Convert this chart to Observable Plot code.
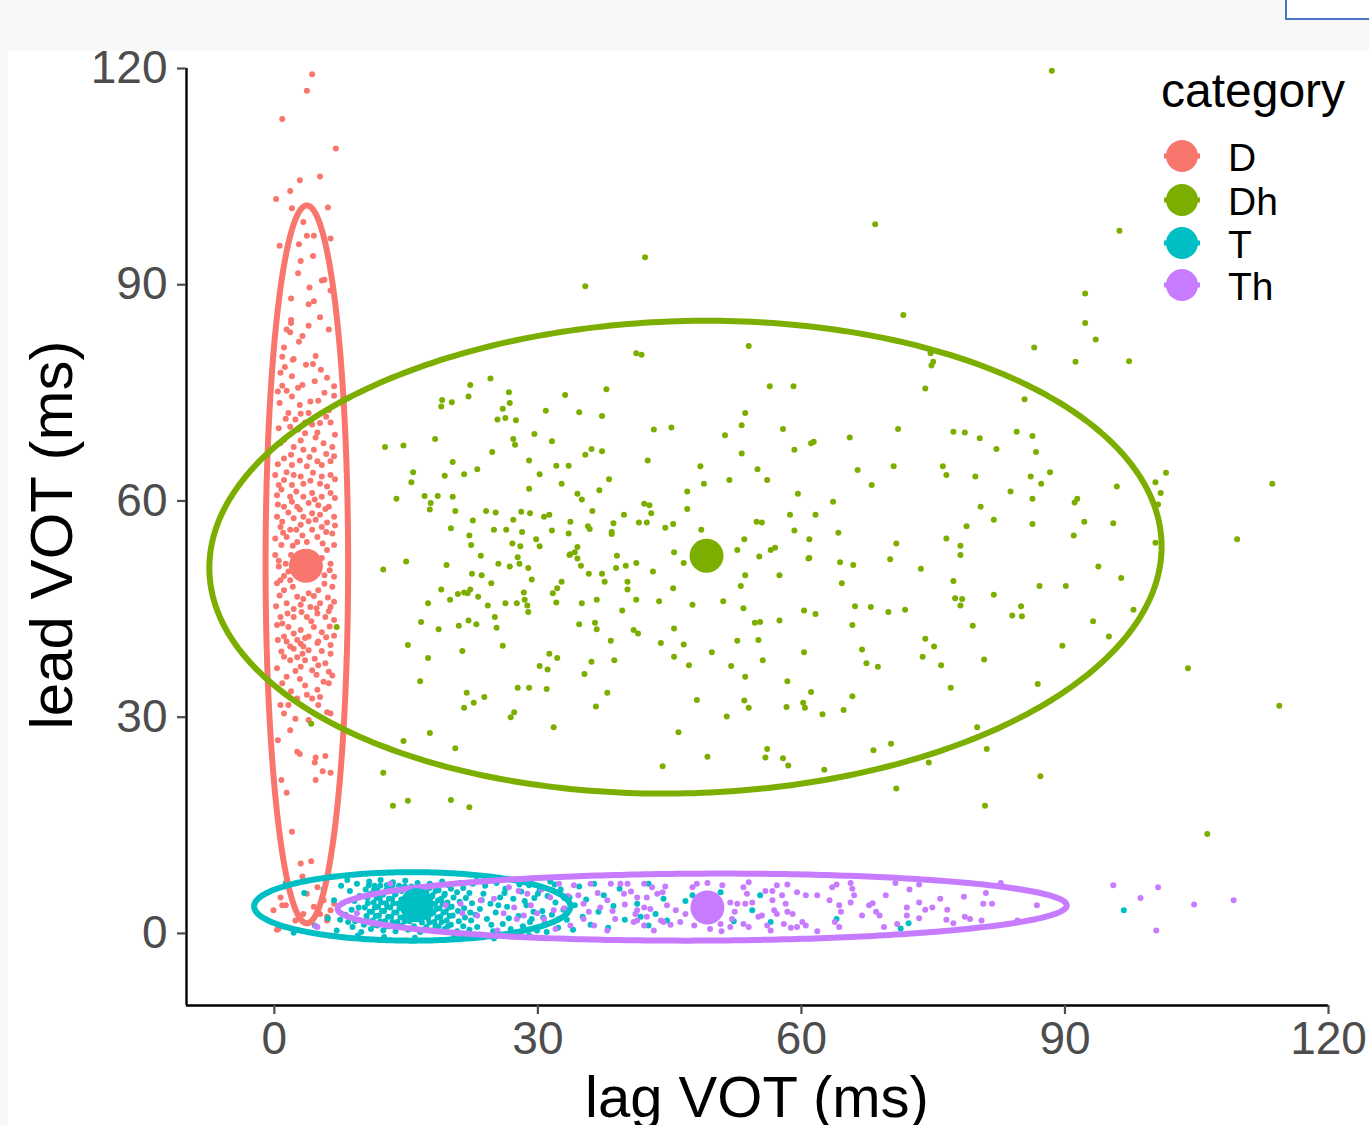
<!DOCTYPE html>
<html><head><meta charset="utf-8">
<script src="https://cdn.jsdelivr.net/npm/d3@7"></script>
<script src="https://cdn.jsdelivr.net/npm/@observablehq/plot@0.6"></script>
<style>
html,body{margin:0;padding:0;background:#f8f8f8;width:1369px;height:1125px;overflow:hidden;font-family:"Liberation Sans",Arial,sans-serif}
#panel{position:absolute;left:8px;top:51px;width:1361px;height:1074px;background:#fff}
#box{position:absolute;left:1285px;top:-2px;width:90px;height:18px;border:2px solid #4a74c4;background:#fff}
#chart{position:absolute;left:0;top:0}
#overlay{position:absolute;left:0;top:0}
</style></head><body>
<div id="panel"></div><div id="box"></div><div id="chart"></div>
<svg id="overlay" width="1369" height="1125"></svg>
<script>
const categories = ["D","Dh","T","Th"];
const colors = ["#F8766D","#7CAE00","#00BFC4","#C77CFF"];
const xTicks = [0,30,60,90,120];
const yTicks = [0,30,60,90,120];

const pointsD = [[4.3,119.2],[3.7,116.9],[0.9,113.0],[7.0,108.9],[5.2,105.0],[2.9,104.5],[1.8,103.0],[0.2,101.9],[2.0,100.6],[6.1,100.7],[3.3,98.7],[3.7,96.8],[4.5,96.8],[6.4,96.4],[0.6,95.4],[2.8,95.6],[3.0,93.3],[4.4,94.0],[2.7,91.6],[5.4,90.6],[5.7,90.7],[4.0,89.6],[6.4,89.2],[1.9,88.1],[3.9,87.3],[4.5,87.7],[5.2,85.5],[1.9,85.1],[1.9,84.7],[1.4,83.8],[1.8,83.4],[3.9,84.3],[6.2,83.8],[3.2,82.9],[2.8,82.1],[1.1,81.3],[0.9,80.0],[2.2,79.7],[4.7,80.1],
[2.1,79.6],[4.4,79.0],[5.3,78.2],[0.7,77.8],[2.0,77.3],[3.2,76.1],[0.9,76.0],[0.4,75.2],[1.4,75.3],[2.0,74.5],[5.7,75.0],[6.8,75.9],[6.8,74.6],[4.1,73.8],
[1.6,72.2],[3.0,72.1],[3.9,72.2],[2.4,71.3],[1.8,70.3],[4.3,70.6],[5.2,70.8],[6.4,70.9],[6.9,69.2],[3.5,69.4],[4.7,68.8],[3.0,68.4],[5.6,68.0],[1.1,68.5],[2.2,67.5],[1.1,65.9],[3.3,67.1],[4.5,67.1],[6.6,67.5],[0.1,63.6],[2.0,65.0],[4.9,65.5],[5.4,65.0],[6.4,65.5],
[2.2,63.6],[3.0,63.4],[5.4,63.4],[6.4,63.6],[0.5,62.2],[2.0,62.2],[3.3,62.4],[5.2,62.4],[0.3,60.8],[1.8,60.6],[3.3,60.6],[4.3,61.1],[6.4,61.1],[1.1,59.2],[2.6,59.2],[3.9,59.7],[5.0,59.4],[6.2,59.2],[0.3,57.8],[2.2,57.6],[3.3,57.8],[5.2,58.1],[6.8,57.8],[0.7,56.4],[1.8,56.0],[3.0,56.7],[4.3,56.0],[5.4,56.4],[6.6,55.5],[0.1,54.8],[1.4,55.0],[2.6,54.3],[4.9,55.0],[3.7,54.3],
[0.1,52.5],[0.5,50.9],[0.7,49.0],[1.3,51.3],[6.0,53.2],[6.4,51.3],[6.8,49.5],[6.6,48.1],[1.1,47.6],[1.8,49.0],
[2.6,46.7],[3.9,47.2],[5.0,47.6],[1.4,45.8],[3.0,45.6],[4.1,45.3],[5.2,45.8],[6.4,45.3],[0.7,43.9],[2.2,43.9],[3.7,43.9],[4.9,44.4],[5.8,43.9],[6.8,43.5],[0.3,42.8],[1.6,42.5],[3.0,42.1],[4.5,42.5],[5.4,41.8],[1.1,41.2],[2.6,40.7],[3.9,41.2],[5.0,40.5],[1.8,39.8],[3.3,39.8],
[1.4,40.5],[3.0,40.2],[4.9,40.3],[6.4,40.0],[2.2,39.5],[3.9,39.3],[1.1,38.4],[3.2,38.8],[6.4,38.8],[1.8,37.9],[3.5,37.9],[5.8,37.5],[0.3,36.8],[3.0,37.0],[4.3,36.5],[5.0,37.2],[6.2,36.3],[1.4,35.6],[6.6,35.8],[3.5,34.4],[4.9,33.8],[6.2,34.7],[2.6,32.6],[4.3,32.6],[5.2,32.8],[0.7,31.7],[1.6,31.7],[5.0,31.7],[6.0,30.7],[1.1,30.5],[2.4,29.8],[3.9,29.6],[6.4,30.5],[1.8,28.2],
[2.6,25.2],[2.9,24.9],[4.7,24.4],[4.6,23.7],[5.8,24.6],[5.5,22.5],[6.4,22.3],[4.7,21.3],[0.4,26.8],[0.8,21.3],[1.4,19.5],[2.0,14.1],[3.0,9.7],[4.2,10.0],[3.2,7.9],
[0.7,5.0],[1.3,3.9],[-0.1,3.2],[3.7,5.5],[4.9,6.4],[5.6,4.6],[4.5,3.7],[5.2,2.7],[6.4,3.2],[6.0,1.8],[3.3,2.7],[2.4,1.8],[0.5,0.7],[0.9,3.9],[6.8,4.1],[6.0,2.3],[0.3,0.5],
[1.2,78.6],[3.6,78.9],[6.0,77.1],[2.7,75.7],[4.6,76.6],[0.6,73.6],[2.9,73.3],[5.0,73.9],[6.2,72.6],[1.3,71.4],[3.5,70.9],[5.9,71.7],[0.5,70.1],[2.7,69.9],[4.9,69.5],
[0.7,68.0],[1.9,66.4],[4.0,66.1],[5.9,66.5],[2.9,65.6],[6.8,66.2],[0.4,65.1],[3.7,64.8],[1.4,64.0],[4.4,63.9],[6.9,63.0],
[1.1,62.9],[4.1,62.8],[6.0,62.0],[0.8,61.6],[2.5,61.3],[5.4,60.6],[6.9,60.4],[2.0,59.9],[4.6,60.2],[0.4,59.5],
[1.6,58.4],[2.9,58.8],[4.3,58.3],[5.8,58.9],[0.9,57.1],[3.9,57.2],[6.0,57.0],[4.7,57.4],[2.5,56.0],[1.0,55.6],[5.9,55.7],[3.2,55.2],[6.9,56.6],
[0.8,53.9],[2.1,53.8],[5.5,54.1],[6.8,53.9],[1.9,52.5],[5.4,52.1],[0.5,51.7],[6.3,50.4],[1.6,50.2],[5.7,49.7],[1.1,49.6],
[0.3,48.6],[2.1,48.1],[5.7,48.5],[0.6,46.9],[3.3,46.4],[4.5,46.8],[6.1,46.6],[0.2,45.4],[2.2,45.0],[4.8,45.1],[6.8,46.0],
[1.5,44.4],[3.1,44.6],[6.2,44.7],[0.9,43.0],[4.2,43.3],[6.3,42.6],[2.2,41.6],[5.9,41.1],[0.4,40.7],[3.5,41.0],[6.8,41.3],
[2.6,38.3],[4.6,38.1],[5.4,39.2],[0.8,39.1],[2.4,36.4],[4.8,35.9],[0.9,34.7],[2.9,35.3],[5.6,34.9],[1.9,33.6],[3.7,33.1]];

const pointsDh = [[42.2,93.8],[35.4,89.8],[54.0,81.5],[41.2,80.5],[41.8,80.3],[24.6,77.0],[22.3,76.1],[19.1,74.0],[20.2,73.7],[19.0,73.1],[22.1,74.5],[26.7,75.1],[26.8,73.6],[26.0,72.8],[25.4,71.3],[26.3,71.5],[27.5,71.2],[33.1,74.7],[37.8,75.5],[30.9,72.5],[34.7,72.3],[37.3,71.8],[56.4,75.9],[59.1,75.9],[53.6,72.2],[53.2,70.5],[57.9,70.0],[43.2,69.9],[45.2,70.2],[51.3,69.1],[61.1,68.0],[61.4,68.2],[59.2,67.1],[53.2,66.6],[42.5,65.6],[48.5,64.8],[55.0,64.4],[51.8,62.9],[56.1,62.9],[48.9,62.4],[47.0,61.3],[59.6,61.0],[47.0,58.9],[12.6,67.5],[14.7,67.7],[18.3,68.6],[27.2,68.6],[27.4,67.8],[29.6,69.3],[31.6,68.3],[24.8,66.8],[20.3,65.4],[15.8,64.0],[15.6,62.6],[19.4,63.5],[21.6,63.7],[23.1,64.4],[29.0,65.6],[30.2,63.7],[32.1,64.9],[33.5,64.9],[35.4,66.4],[36.1,67.2],[37.3,66.9],[38.1,63.0],[37.0,61.5],[32.7,62.4],[29.0,61.7],[34.5,61.0],[35.0,60.2],[13.9,60.3],[17.1,60.7],[18.6,60.7],[20.3,60.6],[17.8,59.7],[17.7,58.8],[20.6,58.6],[24.1,58.6],[25.2,58.4],[22.6,57.3],[20.1,56.2],[22.2,55.2],[22.4,53.9],[23.5,52.4],[28.1,58.5],[29.1,58.3],[27.2,57.4],[25.0,56.0],[26.4,56.0],[28.2,55.7],[29.8,54.7],[30.2,53.7],[27.1,54.1],[28.0,53.7],[27.7,52.2],[30.7,57.8],[31.3,58.1],[31.6,55.9],[33.7,57.1],[33.5,55.5],[34.5,53.6],[33.7,52.6],[34.2,52.9],[34.5,52.0],[35.7,56.5],[35.9,56.1],[36.2,58.6],[38.6,56.9],[38.4,55.7],[38.4,55.4],[39.0,52.4],[39.8,58.1],[41.5,57.0],[42.4,57.0],[42.1,59.6],[42.7,59.4],[42.9,58.3],[44.5,56.3],[45.4,56.8],[48.6,56.0],[45.5,52.9],[53.5,54.7],[52.7,53.2],[55.2,52.3],[56.5,53.2],[57.0,53.5],[54.9,57.1],[55.5,57.0],[58.7,58.1],[61.6,58.1],[59.2,55.9],[60.9,54.7],[60.9,52.1],
[12.4,50.5],[15.0,51.6],[19.6,51.1],[27.9,51.3],[28.9,50.7],[26.8,50.9],[25.5,51.3],[22.5,49.9],[23.6,49.7],[24.7,48.6],[29.3,49.1],[19.0,47.7],[17.5,45.8],[20.0,46.3],[20.9,47.1],[21.6,47.3],[22.0,47.2],[22.3,47.7],[23.2,46.7],[24.3,45.5],[26.3,45.8],[27.6,45.8],[28.4,47.3],[28.5,46.3],[28.8,45.5],[28.9,44.6],[16.7,43.2],[18.7,42.2],[21.0,42.7],[22.1,43.4],[23.0,42.9],[25.1,43.9],[25.3,42.4],[15.2,40.0],[17.5,38.2],[21.4,39.2],[26.0,39.9],[16.6,35.0],[21.9,33.4],[22.7,32.0],[21.6,31.3],[23.9,32.8],[27.7,34.1],[29.0,34.1],[31.0,33.9],[27.3,30.7],[26.9,30.0],[31.8,28.6],[17.7,27.8],[14.7,26.7],[20.6,25.7],[12.4,22.3],[13.5,17.7],[15.2,18.4],[20.1,18.5],[22.2,17.5],[31.7,47.2],[32.2,47.9],[32.7,48.8],[32.1,45.9],[33.6,52.5],[34.9,51.0],[35.8,49.9],[37.3,49.9],[37.6,48.8],[38.9,50.7],[40.0,51.0],[41.2,51.4],[40.2,48.8],[40.2,47.7],[35.0,45.8],[36.7,46.3],[34.7,42.9],[36.5,43.1],[36.7,42.2],[39.6,44.8],[41.2,46.3],[43.1,50.2],[46.6,51.4],[45.4,47.9],[43.8,46.1],[47.6,45.6],[40.9,42.1],[41.4,41.6],[38.3,40.6],[31.3,38.8],[32.2,38.2],[30.2,37.1],[31.1,36.6],[36.1,37.7],[38.7,37.9],[35.3,36.0],[37.9,33.4],[36.6,31.5],[44.0,40.3],[45.5,42.3],[46.6,40.1],[45.5,38.4],[47.2,37.2],[49.8,39.0],[48.1,32.4],[46.0,27.9],[44.2,23.2],[49.3,24.5],[51.1,46.1],[53.4,45.1],[53.6,49.7],[53.1,48.2],[57.5,49.7],[60.8,52.0],[54.7,43.1],[55.3,43.2],[57.5,43.4],[60.3,44.8],[61.6,44.3],[52.7,40.6],[55.1,40.7],[55.6,37.9],[60.3,39.0],[52.0,37.1],[53.6,35.6],[53.5,32.3],[54.0,31.3],[51.5,30.1],[58.4,35.0],[61.1,33.5],[58.3,31.4],[60.2,32.0],[60.4,31.3],[62.4,30.4],[56.1,25.6],[55.9,24.4],[57.9,24.3],[58.5,23.3],[62.6,22.7],
[88.5,119.7],[68.4,98.4],[96.2,97.5],[71.6,85.8],[92.3,88.8],[92.3,84.7],[93.5,82.4],[86.5,81.3],[91.2,79.3],[97.3,79.4],[74.7,80.5],[75.0,79.3],[74.8,78.8],[74.1,75.6],[85.4,74.1],[65.5,68.8],[71.0,70.0],[77.3,69.6],[78.6,69.5],[80.3,68.7],[84.5,69.6],[86.3,69.0],[82.2,67.2],[86.7,66.8],[66.4,64.3],[70.5,64.8],[68.0,62.2],[76.1,64.8],[76.5,63.6],[79.8,63.4],[86.1,63.4],[87.3,62.4],[88.3,64.0],[83.8,61.3],[86.3,60.3],[80.4,59.2],[81.9,57.4],[78.8,56.5],[86.3,56.8],[91.4,60.3],[91.1,59.8],[92.2,57.1],[95.5,56.9],[91.0,55.2],[95.9,62.0],[100.3,62.6],[101.5,63.9],[100.9,61.1],[100.6,59.5],[113.6,62.4],[109.6,54.7],[100.3,54.2],[63.6,59.9],[64.2,55.6],[70.8,54.1],[76.5,54.8],[78.1,53.8],[78.1,52.5],[70.1,51.9],
[64.4,51.5],[65.9,51.1],[73.6,50.6],[64.6,48.6],[77.3,48.9],[77.5,46.5],[78.3,46.4],[78.1,45.5],[81.9,47.0],[87.1,48.2],[90.1,48.2],[93.8,50.9],[96.4,49.3],[66.1,45.4],[67.9,45.3],[69.9,44.6],[71.8,44.9],[65.8,42.8],[84.0,44.1],[85.0,45.4],[85.1,44.0],[79.5,42.7],[74.1,40.9],[75.1,39.8],[73.8,38.4],[75.9,37.2],[66.9,39.4],[67.4,37.5],[68.7,37.0],[80.8,38.0],[77.0,34.1],[93.2,43.3],[97.8,44.9],[95.0,41.2],[89.7,39.9],[86.9,34.6],[65.8,32.9],[64.8,31.0],[80.0,28.6],[68.2,25.4],[70.2,26.3],[81.1,25.6],[74.5,23.7],[70.8,20.1],[87.2,21.8],[80.9,17.7],[104.0,36.8],[114.4,31.6],[106.2,13.8],[4.2,29.1],[7.1,42.5]];

const pointsT = [[1.3,7.0],[3.4,5.6],[5.6,6.1],[6.8,4.6],[6.1,2.1],[4.6,1.1],[7.1,0.4],[2.2,0.1],[7.6,6.6],[8.3,7.4],[8.9,0.9],[9.4,6.9],[8.1,2.6],[9.2,1.7],[9.7,5.2],[8.6,5.9],[9.9,0.2],[8.8,3.3],[7.8,4.2],[9.1,4.5],[8.4,1.6],[9.6,3.6],[7.5,1.9],
[10.2,1.2],[10.5,2.4],[10.3,3.6],[10.6,4.9],[10.4,6.1],[10.8,7.2],[11.0,0.6],[11.2,1.8],[11.1,3.0],[11.3,4.3],[11.0,5.5],[11.4,6.6],[11.7,1.1],[11.9,2.5],[11.8,3.7],[12.0,4.9],[11.7,6.0],[12.1,7.4],[12.4,0.4],[12.6,1.7],[12.5,3.1],[12.7,4.2],[12.4,5.4],[12.8,6.7],[13.1,1.0],[13.3,2.3],[13.2,3.6],[13.4,4.8],[13.1,6.1],[13.5,7.1],[13.8,0.3],[14.0,1.6],[13.9,2.9],[14.1,4.1],[13.8,5.5],[14.2,6.6],[14.5,1.1],[14.7,2.2],[14.6,3.5],[14.8,4.7],[14.5,5.9],[14.9,7.3],[15.2,0.5],[15.4,1.7],[15.3,2.8],[15.5,4.2],[15.2,5.3],[15.6,6.5],[15.9,1.0],[16.1,2.3],[16.0,3.4],[16.2,4.6],[15.9,5.8],[16.3,7.0],[16.6,0.2],[16.8,1.5],[16.7,2.7],[16.9,4.0],[16.6,5.2],[17.0,6.4],[17.3,0.9],[17.5,2.1],[17.4,3.3],[17.6,4.5],[17.3,5.7],[17.7,6.9],[18.0,0.4],[18.2,1.6],[18.1,2.9],[18.3,4.1],[18.0,5.3],[18.4,6.5],[18.7,1.0],[18.9,2.3],[18.8,3.5],[19.0,4.8],[18.7,6.0],[19.1,7.2],[19.4,0.6],[19.6,1.8],[19.5,3.0],[19.7,4.3],[19.4,5.5],[19.8,6.7],[20.1,1.2],[20.3,2.5],[20.2,3.7],[20.4,5.0],[20.1,6.2],[20.8,0.3],[21.0,1.7],[20.9,3.1],[21.1,4.4],[20.8,5.7],[21.2,7.0],[21.5,1.0],[21.7,2.2],[21.6,3.5],[21.8,4.9],[21.5,6.3],[22.2,0.5],[22.4,1.8],[22.3,2.9],[22.5,4.2],[22.2,5.6],[22.6,6.9],
[10.55,1.8],[10.85,3.0],[10.65,4.2],[10.95,5.5],[10.75,6.7],[11.35,1.2],[11.55,2.4],[11.45,3.6],[11.65,4.9],[11.35,6.1],[12.05,1.7],[12.25,3.1],[12.15,4.3],[12.35,5.5],[12.05,6.6],[12.75,1.0],[12.95,2.3],[12.85,3.7],[13.05,4.8],[12.75,6.0],[13.45,1.6],[13.65,2.9],[13.55,4.2],[13.75,5.4],[13.45,6.7],[14.15,0.9],[14.35,2.2],[14.25,3.5],[14.45,4.7],[14.15,6.1],[14.85,1.7],[15.05,2.8],[14.95,4.1],[15.15,5.3],[14.85,6.5],[17.65,1.5],[17.85,2.7],[17.75,3.9],[17.95,5.1],[17.65,6.3],[18.35,1.0],[18.55,2.2],[18.45,3.4],[18.65,4.6],[18.35,5.9],[19.05,1.6],[19.25,2.9],[19.15,4.1],[19.35,5.3],[19.75,1.0],[19.95,2.4],[19.85,3.6],
[23.0,7.3],[23.4,3.4],[23.1,0.9],[23.8,5.5],[24.2,2.0],[24.0,6.6],[24.6,4.1],[24.9,0.3],[25.3,7.0],[25.2,2.9],[25.7,5.0],[26.0,1.3],[26.3,6.2],[26.5,3.7],[26.9,0.6],[27.2,4.8],[27.4,7.4],[27.8,2.4],[28.1,5.8],[28.3,1.0],[28.7,3.9],[29.0,6.7],[29.3,2.0],[29.6,4.9],[29.9,0.4],[30.2,6.0],[30.5,3.1],[30.8,1.4],[31.1,5.2],[31.4,7.2],[31.6,2.6],[32.0,4.3],[32.3,0.8],[32.6,6.1],[32.9,3.3],[33.3,1.9],[33.6,5.0],[34.0,0.5],[34.2,3.9],[34.7,6.5],[35.1,2.3],[35.5,4.7],[36.0,1.2],[36.4,6.9],[36.9,3.0],[37.5,5.3],[38.0,0.8],[38.6,3.8],[39.3,6.2],[39.9,1.9],
[22.9,2.6],[23.6,4.6],[24.4,7.6],[24.7,1.2],[25.5,3.9],[26.2,5.6],[26.7,2.1],[27.5,0.1],[27.9,6.8],[28.5,4.5],[29.1,1.6],[29.5,3.0],[30.0,5.5],[30.6,2.2],[31.0,0.2],[31.9,6.8],[32.4,2.0],[33.0,4.9],
[12.5,-0.5],[16.0,-0.6],[20.5,-0.4],[25.0,-0.7],[29.0,-0.3],[9.5,-0.3],
[42.6,6.9],[44.3,4.8],[41.3,4.1],[43.4,2.7],[42.6,1.1],[44.7,1.8],[41.7,2.3],[47.6,5.3],[46.8,4.5],[50.8,5.7],[52.3,1.7],[54.4,3.2],[55.3,5.3],[56.5,1.6],[64.0,2.0],[71.3,0.7],[72.2,1.4],[96.7,3.2]];

const pointsTh = [[42.1,6.9],[43.0,6.4],[44.5,6.5],[41.3,5.0],[42.4,5.0],[43.6,5.5],[44.2,5.7],[42.1,3.6],[42.8,3.4],[44.7,3.9],[45.7,3.2],[41.1,2.7],[42.4,2.3],[44.0,1.8],[45.1,1.2],[46.2,1.6],[42.1,1.1],[43.2,0.4],[47.8,1.1],[47.6,6.4],[48.1,6.9],[49.3,7.0],[51.0,6.7],[46.8,2.7],[49.6,0.6],[50.8,1.3],[50.9,0.3],[51.9,4.3],[52.7,4.1],[51.9,0.9],[52.4,3.0],[52.1,2.0],[53.4,6.4],[54.0,7.1],[53.8,5.5],[53.6,4.1],[54.4,4.3],[53.4,1.3],[54.0,0.9],[55.1,2.3],[55.5,2.5],[55.9,5.9],[56.7,5.9],[57.2,6.7],[58.4,6.8],[56.7,4.6],[57.8,5.3],[58.2,4.1],[57.2,2.7],[56.9,3.2],[58.4,3.0],[59.0,2.7],[56.1,1.1],[56.5,0.4],[58.0,1.3],[58.8,0.8],[59.5,5.7],[60.5,5.3],[61.8,5.3],[60.1,1.6],[60.5,1.1],[59.5,0.9],[61.8,0.3],[63.2,4.6],[63.5,6.4],[64.0,6.8],[64.3,3.9],[64.5,3.0],[64.3,0.9],[63.8,1.6],[65.6,7.0],[65.8,6.2],[66.0,5.3],[65.6,4.3],[66.9,2.5],[67.7,3.9],[68.1,4.2],[68.5,3.0],[68.9,2.5],[69.4,0.9],[69.6,5.3],[70.7,7.0],[70.9,1.3],[72.0,3.6],[72.0,2.5],[72.3,6.1],[73.4,6.8],[73.4,4.3],[74.1,3.3],[74.9,3.6],[73.4,2.1],[75.8,4.8],[76.6,3.3],[76.5,1.9],[77.3,1.4],[78.5,5.1],[78.6,2.3],[79.2,2.0],[80.5,1.8],[80.7,4.1],[81.0,5.6],[81.7,4.1],[82.7,7.0],[84.6,1.8],[86.8,3.9],[44.3,1.6],[41.3,1.8],
[95.5,6.7],[98.6,4.9],[100.6,6.4],[104.7,4.0],[109.2,4.6],[100.4,0.4],
[13.2,6.9],[9.4,2.8],[4.9,0.9],[4.7,1.0],[19.5,3.9],[21.2,4.1],[21.4,2.8],[23.1,2.5],[23.5,4.6],[25.0,4.8],[26.7,6.4],[27.8,5.9],[28.8,5.5],[27.3,3.6],[26.1,2.8],[28.4,2.5],[29.2,3.9],[29.9,2.8],[25.4,0.4],[27.6,2.0],[30.7,2.0],[31.4,5.0],[32.4,6.9],[34.1,6.7],[36.0,6.9],[38.3,6.9],[39.4,6.9],[40.2,6.9],[35.2,4.1],[37.1,3.6],[37.9,4.6],[39.8,5.5],[35.2,2.0],[36.4,1.1],[37.9,0.4],[38.8,2.0],[40.9,1.6],[41.3,3.2],[33.7,1.1],[32.0,0.6],
[33.0,3.5],[34.6,5.3],[36.8,5.6],[38.5,3.1],[39.9,4.0],[31.8,3.2],[35.8,3.0],[40.6,5.8],[30.4,6.1],[33.4,5.2]];

// category means (big dots)
const meanCategory = ["D","Dh","T","Th"];
const meanLag = [3.6, 49.2, 16.2, 49.3];
const meanLead = [51.0, 52.4, 3.9, 3.6];

// ellipse summaries: centre, half-extent along x and y, correlation
const ellCategory = ["D","Dh","T","Th"];
const ellCx = [3.7, 46.8, 15.7, 48.7];
const ellCy = [51.2, 52.2, 3.75, 3.65];
const ellSx = [4.7, 54.2, 18.0, 41.5];
const ellSy = [49.8, 32.8, 4.75, 4.65];
const ellR = [0.0, 0.045, 0.0, 0.05];

const points = [
  ...pointsD.map(([x,y]) => ({category:"D", lag:x, lead:y})),
  ...pointsDh.map(([x,y]) => ({category:"Dh", lag:x, lead:y})),
  ...pointsT.map(([x,y]) => ({category:"T", lag:x, lead:y})),
  ...pointsTh.map(([x,y]) => ({category:"Th", lag:x, lead:y}))
];
const means = meanCategory.map((c,i) => ({category:c, lag:meanLag[i], lead:meanLead[i]}));
const ellipsePts = [];
ellCategory.forEach((c,i) => {
  const k = Math.sqrt(1 - ellR[i]*ellR[i]);
  for (let j = 0; j <= 360; j++) {
    const t = 2*Math.PI*j/360;
    ellipsePts.push({category:c,
      lag: ellCx[i] + ellSx[i]*Math.cos(t),
      lead: ellCy[i] + ellSy[i]*(ellR[i]*Math.cos(t) + k*Math.sin(t))});
  }
});

const chart = Plot.plot({
  width:1369, height:1125,
  marginLeft:186, marginRight:41, marginTop:68, marginBottom:120,
  style:{background:"transparent", fontFamily:"'Liberation Sans', Arial, sans-serif", overflow:"visible"},
  x:{domain:[-10,120]},
  y:{domain:[-10,120]},
  color:{domain:categories, range:colors},
  marks:[
    Plot.dot(points, {x:"lag", y:"lead", fill:"category", r:3, stroke:"none"}),
    Plot.line(ellipsePts, {x:"lag", y:"lead", z:"category", stroke:"category", strokeWidth:6, curve:"linear"}),
    Plot.dot(means, {x:"lag", y:"lead", fill:"category", r:17, stroke:"none"}),
    Plot.ruleX([-10], {stroke:"#000", strokeWidth:2.4}),
    Plot.ruleY([-10], {stroke:"#000", strokeWidth:2.4}),
    Plot.axisX({ticks:xTicks, tickSize:9, tickPadding:7, fontSize:46, color:"#4d4d4d", strokeWidth:2.2, label:null, tickFormat:d=>String(d)}),
    Plot.axisY({ticks:yTicks, tickSize:9, tickPadding:10, fontSize:46, color:"#4d4d4d", strokeWidth:2.2, label:null, tickFormat:d=>String(d)})
  ]
});
document.getElementById("chart").appendChild(chart);

// titles and legend
const ov = d3.select("#overlay");
const font = "'Liberation Sans', Arial, sans-serif";
ov.append("text").attr("transform","translate(72,535) rotate(-90)").attr("text-anchor","middle")
  .attr("font-family",font).attr("font-size",60).attr("fill","#000").text("lead VOT (ms)");
ov.append("text").attr("x",757).attr("y",1117).attr("text-anchor","middle")
  .attr("font-family",font).attr("font-size",58).attr("fill","#000").text("lag VOT (ms)");
ov.append("text").attr("x",1161).attr("y",107).attr("font-family",font).attr("font-size",48).attr("fill","#000").text("category");
const legY = [156, 200, 243, 285];
categories.forEach((c,i) => {
  const g = ov.append("g").attr("transform",`translate(1182,${legY[i]})`);
  g.append("line").attr("x1",-18).attr("x2",18).attr("stroke",colors[i]).attr("stroke-width",5);
  g.append("circle").attr("r",16).attr("fill",colors[i]);
  g.append("text").attr("x",46).attr("y",15).attr("font-family",font).attr("font-size",39).attr("fill","#000").text(c);
});
</script>
</body></html>
